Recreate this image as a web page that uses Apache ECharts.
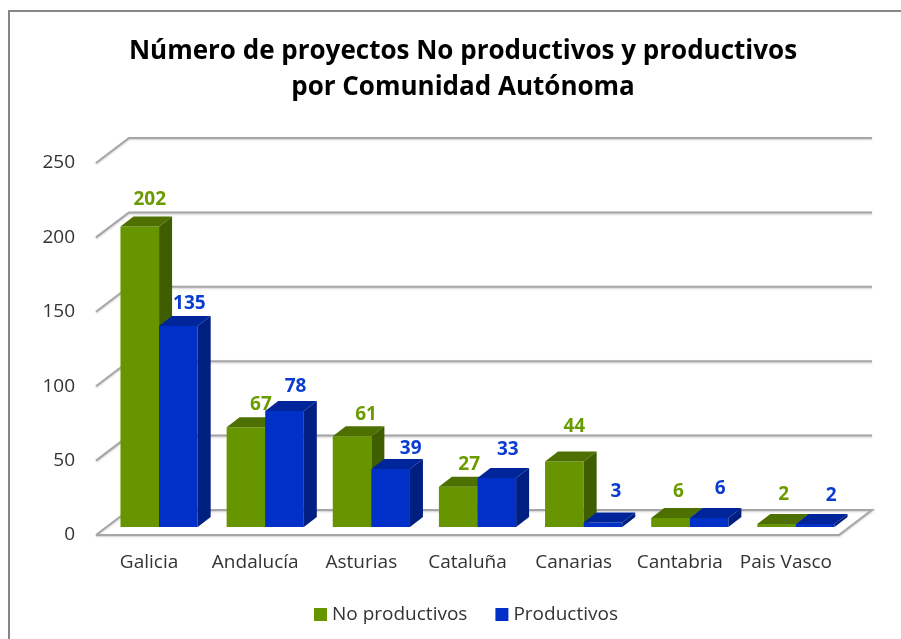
<!DOCTYPE html>
<html>
<head>
<meta charset="utf-8">
<style>
  html, body { margin: 0; padding: 0; background: #fff; overflow: hidden; }
  #chart { width: 901px; height: 639px; }
</style>
<script src="https://cdn.jsdelivr.net/npm/echarts@6/dist/echarts.min.js"></script>
</head>
<body>
<div id="chart"></div>
<script>
const categories = ['Galicia', 'Andalucía', 'Asturias', 'Cataluña', 'Canarias', 'Cantabria', 'Pais Vasco'];
const noProductivos = [202, 67, 61, 27, 44, 6, 2];
const productivos = [135, 78, 39, 33, 3, 6, 2];
const yTicks = [0, 50, 100, 150, 200, 250];

// the labels were moved by hand in the original, so each one has its own nudge
const greenNudgeX = [10, 15, 14, 11, 10, 8, 7];
const greenNudgeY = [27, 23, 22, 22, 35, 26, 29];
const blueNudgeX = [11, 11, 20, 11, 13, 11, 16];
const blueNudgeY = [23, 24, 20, 28, 31, 29, 28];

const FONT = '"Open Sans", "Noto Sans", sans-serif';
const WALL_DX = 33, WALL_DY = 25;   // fake 3d: front plane to back wall
const BAR_DX = 13, BAR_DY = 10;     // depth of a bar
const GAP_DX = 10, GAP_DY = 8;      // front plane to bar front
const LINE = '#a6a6a6';

function lineStyle() {
  return { fill: null, stroke: LINE, lineWidth: 2, shadowColor: 'rgba(0,0,0,.2)', shadowBlur: 2, shadowOffsetY: 1 };
}

// walls and floor
function renderWall(params, api) {
  const sys = params.coordSys;
  const value = api.value(1);
  const y = api.coord([0, value])[1];
  const x0 = sys.x, x1 = sys.x + sys.width;
  const points = value === 0
    ? [[x0, y], [x0 + WALL_DX, y - WALL_DY], [x1 + WALL_DX, y - WALL_DY], [x1, y], [x0, y]]
    : [[x0, y], [x0 + WALL_DX, y - WALL_DY], [x1 + WALL_DX, y - WALL_DY]];
  return { type: 'polyline', shape: { points: points }, style: lineStyle(), silent: true };
}

// one 3d bar: front, top, side and its value label
function makeRender(colors, side, nudgeX, nudgeY) {
  return function (params, api) {
    const i = api.value(0);
    const value = api.value(1);
    const top = api.coord([i, value]);
    const base = api.coord([i, 0]);
    const w = api.size([1, 0])[0] / 2.75;
    const left = top[0] + GAP_DX + (side === 0 ? -w : 0);
    const right = left + w;
    const yTop = top[1] - GAP_DY;
    const yBase = base[1] - GAP_DY;
    const labelX = (left + right) / 2 + nudgeX[params.dataIndex];
    const labelY = yTop - nudgeY[params.dataIndex];
    return {
      type: 'group',
      children: [
        { type: 'rect', shape: { x: left, y: yTop, width: w, height: yBase - yTop }, style: { fill: colors.front } },
        {
          type: 'polygon',
          shape: { points: [[left, yTop], [left + BAR_DX, yTop - BAR_DY], [right + BAR_DX, yTop - BAR_DY], [right, yTop]] },
          style: { fill: colors.top }
        },
        {
          type: 'polygon',
          shape: { points: [[right, yTop], [right + BAR_DX, yTop - BAR_DY], [right + BAR_DX, yBase - BAR_DY], [right, yBase]] },
          style: { fill: colors.side }
        },
        {
          type: 'text',
          style: {
            text: String(value), x: labelX, y: labelY, align: 'center', verticalAlign: 'middle',
            fill: colors.label, font: 'bold 19px ' + FONT
          }
        }
      ]
    };
  };
}

const green = { front: '#669500', top: '#4d7000', side: '#3f5e00', label: '#6a9c00' };
const blue = { front: '#0030c8', top: '#00259a', side: '#001f80', label: '#0a3cd2' };

let chart = echarts.init(document.getElementById('chart'));
let option = {
  backgroundColor: '#fff',
  animation: false,
  title: {
    text: 'Número de proyectos No productivos y productivos\npor Comunidad Autónoma',
    left: 458,
    top: 29,
    textAlign: 'center',
    textStyle: { color: '#000', fontFamily: FONT, fontWeight: 'bold', fontSize: 26, lineHeight: 36 }
  },
  legend: {
    left: 309,
    top: 600,
    icon: 'rect',
    itemWidth: 13,
    itemHeight: 13,
    itemGap: 28,
    data: ['No productivos', 'Productivos'],
    textStyle: { color: '#333', fontFamily: FONT, fontSize: 19 }
  },
  grid: { left: 96, right: 62, top: 163, bottom: 104 },
  xAxis: {
    type: 'category',
    data: categories,
    axisLine: { show: false },
    axisTick: { show: false },
    axisLabel: { color: '#333', fontFamily: FONT, fontSize: 19, margin: 18, interval: 0 }
  },
  yAxis: {
    type: 'value',
    min: 0,
    max: 250,
    interval: 50,
    axisLine: { show: false },
    axisTick: { show: false },
    splitLine: { show: false },
    axisLabel: { color: '#333', fontFamily: FONT, fontSize: 19, margin: 21, padding: [2, 0, 0, 0] }
  },
  graphic: [
    {
      type: 'polyline',
      shape: { points: [[9, 639], [9, 11], [901, 11]] },
      style: { fill: null, stroke: '#868686', lineWidth: 2 },
      silent: true
    }
  ],
  series: [
    {
      name: 'wall',
      type: 'custom',
      renderItem: renderWall,
      data: yTicks.map(v => [0, v]),
      encode: { x: 0, y: 1 },
      silent: true,
      z: 1
    },
    {
      name: 'No productivos',
      type: 'custom',
      renderItem: makeRender(green, 0, greenNudgeX, greenNudgeY),
      data: noProductivos.map((v, i) => [i, v]),
      encode: { x: 0, y: 1 },
      itemStyle: { color: green.front },
      z: 2
    },
    {
      name: 'Productivos',
      type: 'custom',
      renderItem: makeRender(blue, 1, blueNudgeX, blueNudgeY),
      data: productivos.map((v, i) => [i, v]),
      encode: { x: 0, y: 1 },
      itemStyle: { color: blue.front },
      z: 3
    }
  ]
};
chart.setOption(option);
</script>
</body>
</html>
